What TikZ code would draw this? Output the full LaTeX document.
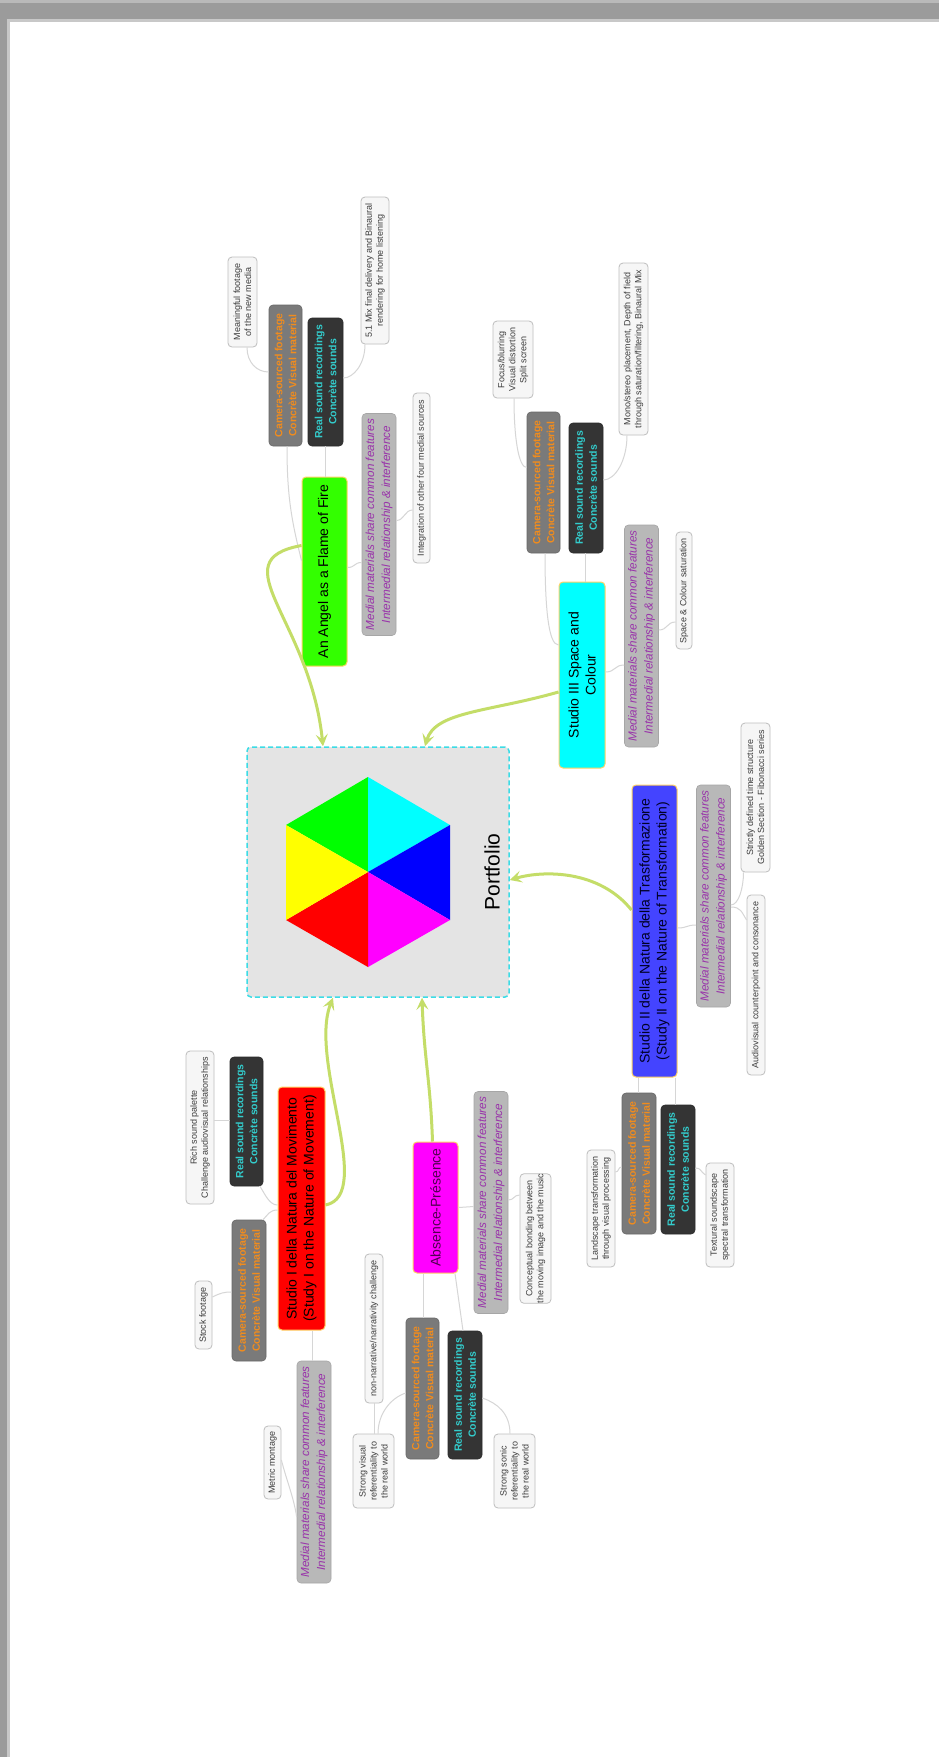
\documentclass[tikz,border=0pt]{standalone}
\usepackage{fontspec}
\setmainfont{Liberation Sans}
\usetikzlibrary{arrows.meta,calc}

\definecolor{framegray}{RGB}{155,155,155}
\definecolor{connc}{RGB}{214,214,214}
\definecolor{garrowc}{RGB}{196,221,104}
\definecolor{camfill}{RGB}{122,122,122}
\definecolor{camtext}{RGB}{240,140,30}
\definecolor{realfill}{RGB}{52,52,52}
\definecolor{realtext}{RGB}{51,204,204}
\definecolor{medfill}{RGB}{184,184,184}
\definecolor{medtext}{RGB}{153,51,170}
\definecolor{leaffill}{RGB}{246,246,246}
\definecolor{leafdraw}{RGB}{190,190,190}
\definecolor{leaftext}{RGB}{60,60,60}
\definecolor{mainborder}{RGB}{255,210,100}
\definecolor{pfill}{RGB}{228,228,228}
\definecolor{pborder}{RGB}{60,220,230}
\definecolor{angelgreen}{RGB}{51,255,0}
\definecolor{s2blue}{RGB}{68,68,255}
\definecolor{abstext}{RGB}{80,0,80}
\definecolor{hexgreen}{RGB}{0,255,0}
\definecolor{hexcyan}{RGB}{0,255,255}
\definecolor{hexblue}{RGB}{0,0,255}
\definecolor{hexmag}{RGB}{255,0,255}
\definecolor{hexred}{RGB}{255,0,0}
\definecolor{hexyellow}{RGB}{255,255,0}

\begin{document}
\begin{tikzpicture}[x=1pt,y=-1pt,
  sz/.style 2 args={minimum width=#1pt, minimum height=#2pt},
  rbox/.style={rotate=90, rounded corners=4pt, inner sep=0pt, align=center},
  mainbox/.style={rbox, draw=mainborder, line width=1pt, text=black, font=\fontsize{14}{17}\selectfont},
  cambox/.style={rbox, fill=camfill, draw=camfill!85!black, line width=0.6pt, text=camtext, font=\bfseries\fontsize{10.5}{14}\selectfont},
  realbox/.style={rbox, fill=realfill, draw=realfill!80!black, line width=0.6pt, text=realtext, font=\bfseries\fontsize{10.5}{14}\selectfont},
  medbox/.style={rbox, fill=medfill, draw=medfill!90!black, line width=0.6pt, text=medtext, font=\itshape\fontsize{11.7}{16}\selectfont, sz={222}{34}},
  leafbox/.style={rbox, fill=leaffill, draw=leafdraw, line width=0.8pt, text=leaftext, font=\fontsize{9}{11}\selectfont},
  conn/.style={draw=connc, line width=1pt},
  garrow/.style={draw=garrowc, line width=3pt, -{Stealth[length=12pt,width=12pt,inset=5pt]}}
]
\useasboundingbox (0,0) rectangle (939,1757);
\fill[white] (0,0) rectangle (939,1757);
% frame
\fill[framegray!55] (7,19) rectangle (10,1757);
\fill[framegray!55] (7,19) rectangle (939,22);
\fill[framegray] (0,0) rectangle (939,19);
\fill[framegray] (0,0) rectangle (7,1757);
\fill[framegray!70] (0,0) rectangle (939,3);

% central node
\node[draw=pborder, fill=pfill, dashed, dash pattern=on 5pt off 3pt, line width=1.5pt, rounded corners=4pt, minimum width=262pt, minimum height=250pt] (portfolio) at (378,872) {};
\fill[hexgreen]  (368,872) -- (368,777) -- (286,825) -- cycle;
\fill[hexcyan]   (368,872) -- (368,777) -- (450,825) -- cycle;
\fill[hexblue]   (368,872) -- (450,825) -- (450,920) -- cycle;
\fill[hexmag]    (368,872) -- (450,920) -- (368,967) -- cycle;
\fill[hexred]    (368,872) -- (368,967) -- (286,920) -- cycle;
\fill[hexyellow] (368,872) -- (286,920) -- (286,825) -- cycle;
\node[rotate=90, font=\fontsize{21}{24}\selectfont] (ptext) at (492,872) {Portfolio};

% main branches
\node[mainbox, fill=angelgreen, sz={189}{45}] (angel) at (324.5,571.5) {An Angel as a Flame of Fire};
\node[mainbox, fill=hexcyan, sz={186}{46}] (studio3) at (582,675) {Studio III Space and\\Colour};
\node[mainbox, fill=s2blue, text=black!85!blue, sz={292}{45}] (studio2) at (654.5,931) {Studio II della Natura della Trasformazione\\(Study II on the Nature of Transformation)};
\node[mainbox, fill=hexred, sz={243}{47}] (studio1) at (301.5,1208.5) {Studio I della Natura del Movimento\\(Study I on the Nature of Movement)};
\node[mainbox, fill=hexmag, text=abstext, sz={131}{45}] (absence) at (435.5,1207.5) {Absence-Présence};

% camera boxes
\node[cambox, sz={141}{33}] (angelcam) at (285.5,375.5) {Camera-sourced footage\\Concrète Visual material};
\node[cambox, sz={141}{33}] (s3cam) at (543.5,482.5) {Camera-sourced footage\\Concrète Visual material};
\node[cambox, sz={141}{34}] (s2cam) at (639,1163.5) {Camera-sourced footage\\Concrète Visual material};
\node[cambox, sz={141}{34}] (s1cam) at (249,1290.5) {Camera-sourced footage\\Concrète Visual material};
\node[cambox, sz={141}{33}] (abscam) at (422.5,1388.5) {Camera-sourced footage\\Concrète Visual material};

% real boxes
\node[realbox, sz={128}{35}] (angelreal) at (325.5,382) {Real sound recordings\\Concrète sounds};
\node[realbox, sz={130}{34}] (s3real) at (586,488) {Real sound recordings\\Concrète sounds};
\node[realbox, sz={129}{34}] (s2real) at (678,1169.5) {Real sound recordings\\Concrète sounds};
\node[realbox, sz={129}{33}] (s1real) at (246.5,1121.5) {Real sound recordings\\Concrète sounds};
\node[realbox, sz={128}{34}] (absreal) at (465,1395) {Real sound recordings\\Concrète sounds};

% medial boxes
\node[medbox] (angelmed) at (379,524.5) {Medial materials share common features\\Intermedial relationship \& interference};
\node[medbox] (s3med) at (641.5,636) {Medial materials share common features\\Intermedial relationship \& interference};
\node[medbox] (s2med) at (713.5,896) {Medial materials share common features\\Intermedial relationship \& interference};
\node[medbox] (s1med) at (314,1472) {Medial materials share common features\\Intermedial relationship \& interference};
\node[medbox] (absmed) at (491,1202.5) {Medial materials share common features\\Intermedial relationship \& interference};

% leaves
\node[leafbox, sz={90}{29}] (meaningful) at (242.5,302) {Meaningful footage\\of the new media};
\node[leafbox, sz={147}{28}] (mix) at (375,270.5) {5.1 Mix final delivery and Binaural\\rendering for home listening};
\node[leafbox, sz={170}{17}] (integration) at (421.5,478) {Integration of other four medial sources};
\node[leafbox, sz={77}{40}] (focus) at (513,359.5) {Focus/blurring\\Visual distortion\\Split screen};
\node[leafbox, sz={172}{29}] (mono) at (633.5,349) {Mono/stereo placement, Depth of field\\through saturation/filtering, Binaural Mix};
\node[leafbox, sz={117}{16}] (spacecol) at (684,590.5) {Space \& Colour saturation};
\node[leafbox, sz={149}{29}] (strictly) at (755.5,797.5) {Strictly defined time structure\\Golden Section - Fibonacci series};
\node[leafbox, sz={180}{18}] (audiovis) at (756,985) {Audiovisual counterpoint and consonance};
\node[leafbox, sz={117}{28}] (landscape) at (601,1208.5) {Landscape transformation\\through visual processing};
\node[leafbox, sz={104}{28}] (textural) at (720,1215) {Textural soundscape\\spectral transformation};
\node[leafbox, sz={153}{28}] (rich) at (200,1127.5) {Rich sound palette\\Challenge audiovisual relationships};
\node[leafbox, sz={68}{17}] (stock) at (203.5,1315) {Stock footage};
\node[leafbox, sz={73}{17}] (metric) at (272.5,1462.5) {Metric montage};
\node[leafbox, sz={149}{18}] (nonnarr) at (374,1328.5) {non-narrative/narrativity challenge};
\node[leafbox, sz={74}{41}] (strongvis) at (373.5,1471) {Strong visual\\referentiality to\\the real world};
\node[leafbox, sz={74}{41}] (strongson) at (514.5,1471) {Strong sonic\\referentiality to\\the real world};
\node[leafbox, sz={122}{31}] (conceptual) at (535.5,1238.5) {Conceptual bonding between\\the moving image and the music};

% thin connectors: Angel
\draw[conn] ($(angel.north)+(0,-11)$) .. controls +(-10,-40) and +(0,50) .. ($(angelcam.west)+(1.5,0)$);
\draw[conn] ($(angelreal.west)+(-0.5,0)$) -- ($(angel.east)+(0.5,0)$);
\draw[conn] ($(angel.south)+(0,-4)$) .. controls +(8,0) and +(-8,0) .. ($(angelmed.north)+(0,38)$);
\draw[conn] ($(angelmed.south)+(0,-4)$) .. controls +(8,0) and +(-8,0) .. ($(integration.north)+(0,32)$);
\draw[conn] ($(meaningful.west)+(4.5,0)$) .. controls +(0,15) and +(-12,0) .. ($(angelcam.north)+(0,-3.5)$);
\draw[conn] ($(mix.west)+(-10,0)$) .. controls +(0,20) and +(10,0) .. ($(angelreal.south)+(0,-4)$);
% Studio III
\draw[conn] ($(s3cam.west)+(1.5,0)$) .. controls +(0,55) and +(-10,0) .. ($(studio3.north)+(0,-30)$);
\draw[conn] ($(s3real.west)+(-1,0)$) -- ($(studio3.east)+(3,0)$);
\draw[conn] ($(studio3.south)+(0,-3)$) .. controls +(10,0) and +(-10,0) .. ($(s3med.north)+(0,29)$);
\draw[conn] ($(s3med.south)+(0,-6)$) .. controls +(9,0) and +(-9,0) .. ($(spacecol.north)+(0,31.5)$);
\draw[conn] ($(focus.west)+(1,0)$) .. controls +(0,40) and +(-8,0) .. ($(s3cam.north)+(0,-15)$);
\draw[conn] ($(mono.west)+(-6.5,0)$) .. controls +(0,25) and +(12,0) .. ($(s3real.south)+(0,-8)$);
% Studio II
\draw[conn] ($(studio2.west)+(-16,0)$) -- ($(s2cam.east)+(-0.5,0)$);
\draw[conn] ($(studio2.west)+(20.5,0)$) -- ($(s2real.east)+(-3,0)$);
\draw[conn] ($(studio2.south)+(0,-3)$) .. controls +(10,0) and +(-10,0) .. ($(s2med.north)+(0,29)$);
\draw[conn] ($(s2med.south)+(0,9)$) .. controls +(8,0) and +(0,15) .. ($(strictly.west)+(-12,0)$);
\draw[conn] ($(s2med.south)+(0,11)$) .. controls +(10,0) and +(-5,-8) .. ($(audiovis.north)+(0,-65)$);
\draw[conn] ($(s2cam.north)+(0,3.5)$) .. controls +(-4,0) and +(4,0) .. ($(landscape.south)+(0,-36.5)$);
\draw[conn] ($(s2real.south)+(0,-1.5)$) .. controls +(6,0) and +(-6,-4) .. ($(textural.north)+(0,-40)$);
% Studio I
\draw[conn] ($(studio1.north)+(0,-3.5)$) .. controls +(-8,0) and +(5,8) .. ($(s1real.west)+(13.5,0)$);
\draw[conn] ($(studio1.north)+(0,1.5)$) .. controls +(-8,0) and +(5,-5) .. ($(s1cam.east)+(14,0)$);
\draw[conn] ($(rich.south)+(0,-7.5)$) -- ($(s1real.north)+(0,-1.5)$);
\draw[conn] ($(stock.south)+(0,-18)$) .. controls +(8,-4) and +(-8,0) .. ($(s1cam.north)+(0,1.5)$);
\draw[conn] ($(studio1.west)+(10.5,0)$) -- ($(s1med.east)+(-2,0)$);
\draw[conn] ($(metric.south)+(0,-2.5)$) .. controls +(5,20) and +(-3,-20) .. ($(s1med.north)+(0,45)$);
% Absence
\draw[conn] ($(absence.south)+(0,0)$) -- ($(absmed.north)+(0,4)$);
\draw[conn] ($(absmed.south)+(0,-2.5)$) .. controls +(6,0) and +(-6,0) .. ($(conceptual.north)+(0,-43.5)$);
\draw[conn] ($(absence.west)+(-12.5,0)$) -- ($(abscam.east)+(0.5,0)$);
\draw[conn] ($(absence.west)+(19.5,0)$) -- ($(absreal.east)+(-2,0)$);
\draw[conn] ($(abscam.north)+(0,4.5)$) .. controls +(-15,5) and +(0,-20) .. ($(strongvis.east)+(4.5,0)$);
\draw[conn] (nonnarr.west) -- ($(strongvis.east)+(0.5,0)$);
\draw[conn] ($(absreal.south)+(0,3)$) .. controls +(15,5) and +(0,-20) .. ($(strongson.east)+(-4.5,0)$);

% green arrows to Portfolio
\draw[garrow] ($(angel.north)+(0,-26)$) .. controls +(-82,15) and +(-13,-127) .. ($(portfolio.north)+(-55,0)$);
\draw[garrow] ($(studio3.north)+(0,17)$) .. controls +(-70,20) and +(10,-35) .. ($(portfolio.north)+(47,0)$);
\draw[garrow] ($(studio2.north)+(0,-21)$) .. controls +(-32,-40) and +(34,-10) .. ($(portfolio.east)+(0,8)$);
\draw[garrow] ($(studio1.south)+(0,-3.5)$) .. controls +(50,-10) and +(-25,63) .. ($(portfolio.south)+(-45,0)$);
\draw[garrow] ($(absence.east)+(-3,0)$) .. controls +(-2,-60) and +(2,60) .. ($(portfolio.south)+(44,0)$);
\end{tikzpicture}
\end{document}
